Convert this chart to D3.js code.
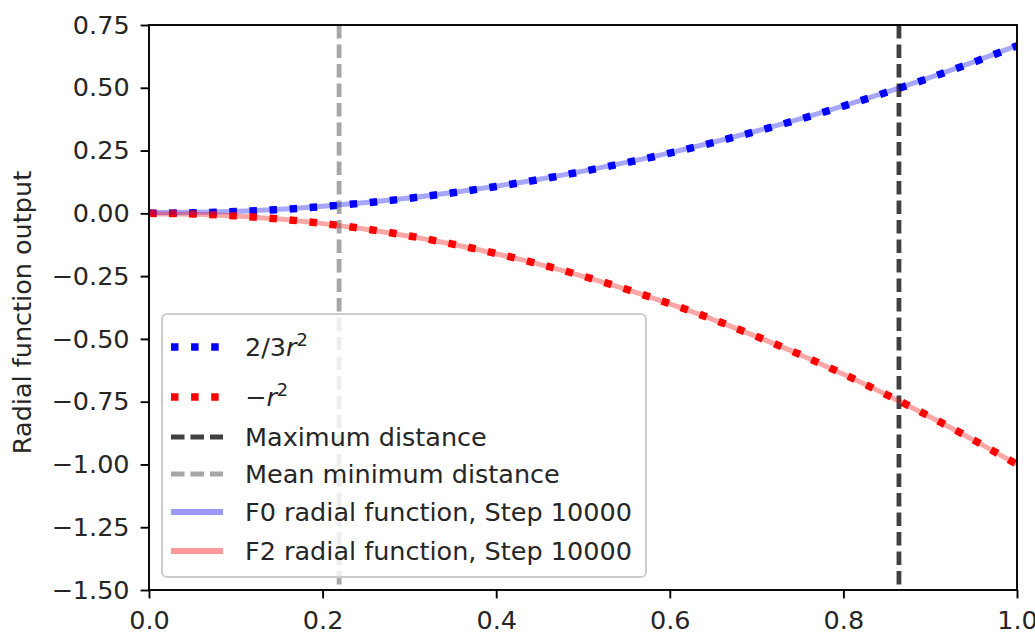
<!DOCTYPE html>
<html>
<head>
<meta charset="utf-8">
<script src="https://cdn.jsdelivr.net/npm/d3@7"></script>
<style>
  html, body { margin: 0; padding: 0; background: #fff; }
  svg { display: block; font-family: "DejaVu Sans", sans-serif; }
</style>
</head>
<body>
<svg id="chart" width="1035" height="634"></svg>
<script>
// ---- data ----
const r = [0, 0.05, 0.1, 0.15, 0.2, 0.25, 0.3, 0.35, 0.4, 0.45, 0.5, 0.55, 0.6, 0.65, 0.7, 0.75, 0.8, 0.85, 0.9, 0.95, 1.0];
const twoThirdsR2 = [0, 0.002, 0.007, 0.015, 0.027, 0.042, 0.06, 0.082, 0.107, 0.135, 0.167, 0.202, 0.24, 0.282, 0.327, 0.375, 0.427, 0.482, 0.54, 0.602, 0.667];
const negR2 = [0, -0.0025, -0.01, -0.0225, -0.04, -0.0625, -0.09, -0.1225, -0.16, -0.2025, -0.25, -0.3025, -0.36, -0.4225, -0.49, -0.5625, -0.64, -0.7225, -0.81, -0.9025, -1.0];
const f0Step10000 = [0.003, 0.004, 0.008, 0.016, 0.028, 0.043, 0.061, 0.083, 0.108, 0.136, 0.168, 0.203, 0.241, 0.283, 0.328, 0.376, 0.428, 0.483, 0.541, 0.603, 0.668];
const f2Step10000 = [-0.002, -0.004, -0.011, -0.023, -0.041, -0.063, -0.091, -0.123, -0.161, -0.203, -0.251, -0.303, -0.361, -0.423, -0.491, -0.563, -0.641, -0.723, -0.811, -0.903, -1.0];
const maxDistance = 0.864;
const meanMinDistance = 0.219;
const xTicks = [0.0, 0.2, 0.4, 0.6, 0.8, 1.0];
const yTicks = [0.75, 0.5, 0.25, 0.0, -0.25, -0.5, -0.75, -1.0, -1.25, -1.5];
const legendLabels = ["2/3r²", "−r²", "Maximum distance", "Mean minimum distance", "F0 radial function, Step 10000", "F2 radial function, Step 10000"];

// ---- layout ----
const svg = d3.select("#chart");
const L = 149, R = 1017, T = 25, B = 590;
const x = d3.scaleLinear().domain([0, 1]).range([L, R]);
const y = d3.scaleLinear().domain([-1.5, 0.75]).range([B, T]);
const fs = 25.5;

const g = svg.append("g");
svg.append("clipPath").attr("id", "clip").append("rect")
  .attr("x", L).attr("y", T).attr("width", R - L).attr("height", B - T);
const plot = g.append("g").attr("clip-path", "url(#clip)");

const line = (vals) => d3.line().x((d, i) => x(r[i])).y(d => y(d)).curve(d3.curveMonotoneX)(vals);

const dotDash = "7.5,12.6";
const lineDash = "13.5,6";

// dotted analytic curves
plot.append("path").attr("d", line(twoThirdsR2)).attr("fill", "none")
  .attr("stroke", "#0000ff").attr("stroke-width", 7.5).attr("stroke-dasharray", dotDash);
plot.append("path").attr("d", line(negR2)).attr("fill", "none")
  .attr("stroke", "#ff0000").attr("stroke-width", 7.5).attr("stroke-dasharray", dotDash);

// vertical lines
plot.append("line").attr("x1", x(maxDistance)).attr("x2", x(maxDistance)).attr("y1", T).attr("y2", B)
  .attr("stroke", "#000").attr("stroke-opacity", 0.75).attr("stroke-width", 4.8).attr("stroke-dasharray", lineDash);
plot.append("line").attr("x1", x(meanMinDistance)).attr("x2", x(meanMinDistance)).attr("y1", T).attr("y2", B)
  .attr("stroke", "#808080").attr("stroke-opacity", 0.7).attr("stroke-width", 4.8).attr("stroke-dasharray", lineDash);

// learned radial functions
plot.append("path").attr("d", line(f0Step10000)).attr("fill", "none")
  .attr("stroke", "#0000ff").attr("stroke-opacity", 0.35).attr("stroke-width", 5);
plot.append("path").attr("d", line(f2Step10000)).attr("fill", "none")
  .attr("stroke", "#ff0000").attr("stroke-opacity", 0.35).attr("stroke-width", 5);

// axes
const xAxis = g.append("g").attr("transform", `translate(0,${B})`)
  .call(d3.axisBottom(x).tickValues(xTicks).tickFormat(d3.format(".1f")).tickSizeOuter(0).tickSize(8.4).tickPadding(12));
const yAxis = g.append("g").attr("transform", `translate(${L},0)`)
  .call(d3.axisLeft(y).tickValues(yTicks).tickFormat(d => d3.format(".2f")(d).replace("-", "−")).tickSizeOuter(0).tickSize(8.4).tickPadding(11));
[xAxis, yAxis].forEach(a => {
  a.select(".domain").remove();
  a.selectAll("line").attr("stroke", "#000").attr("stroke-width", 1.9);
  a.selectAll("text").attr("font-size", fs).attr("fill", "#262626").attr("font-family", "DejaVu Sans");
});
// frame
g.append("rect").attr("x", L).attr("y", T).attr("width", R - L).attr("height", B - T)
  .attr("fill", "none").attr("stroke", "#000").attr("stroke-width", 1.9);

// y label
g.append("text").attr("transform", `translate(31,${(T + B) / 2 + 5}) rotate(-90)`)
  .attr("text-anchor", "middle").attr("font-size", fs).attr("fill", "#262626").text("Radial function output");

// legend
const lg = g.append("g");
lg.append("rect").attr("x", 162).attr("y", 314).attr("width", 484).attr("height", 263).attr("rx", 5)
  .attr("fill", "#fff").attr("fill-opacity", 0.8).attr("stroke", "#cccccc").attr("stroke-width", 2);
const rowsY = [347, 397, 437, 474, 512, 551];
const hx0 = 171, hx1 = 223, tx = 245;
const handles = [
  {stroke: "#0000ff", w: 7.5, dash: dotDash, op: 1},
  {stroke: "#ff0000", w: 7.5, dash: dotDash, op: 1},
  {stroke: "#000", w: 4.8, dash: lineDash, op: 0.75},
  {stroke: "#808080", w: 4.8, dash: lineDash, op: 0.7},
  {stroke: "#0000ff", w: 6, dash: null, op: 0.4},
  {stroke: "#ff0000", w: 6, dash: null, op: 0.4}
];
handles.forEach((h, i) => {
  lg.append("line").attr("x1", hx0).attr("x2", hx1).attr("y1", rowsY[i]).attr("y2", rowsY[i])
    .attr("stroke", h.stroke).attr("stroke-width", h.w).attr("stroke-opacity", h.op)
    .attr("stroke-dasharray", h.dash);
});
// math labels
const m1 = lg.append("text").attr("x", tx).attr("y", rowsY[0]).attr("dy", "0.35em").attr("font-size", fs).attr("fill", "#262626");
m1.append("tspan").text("2/3");
m1.append("tspan").attr("font-style", "italic").text("r");
m1.append("tspan").attr("font-size", fs * 0.7).attr("dy", "-0.55em").text("2");
const m2 = lg.append("text").attr("x", tx).attr("y", rowsY[1]).attr("dy", "0.35em").attr("font-size", fs).attr("fill", "#262626");
m2.append("tspan").text("−");
m2.append("tspan").attr("font-style", "italic").text("r");
m2.append("tspan").attr("font-size", fs * 0.7).attr("dy", "-0.55em").text("2");
legendLabels.slice(2).forEach((t, i) => {
  lg.append("text").attr("x", tx).attr("y", rowsY[i + 2]).attr("dy", "0.35em")
    .attr("font-size", fs).attr("fill", "#262626").text(t);
});
</script>
</body>
</html>
